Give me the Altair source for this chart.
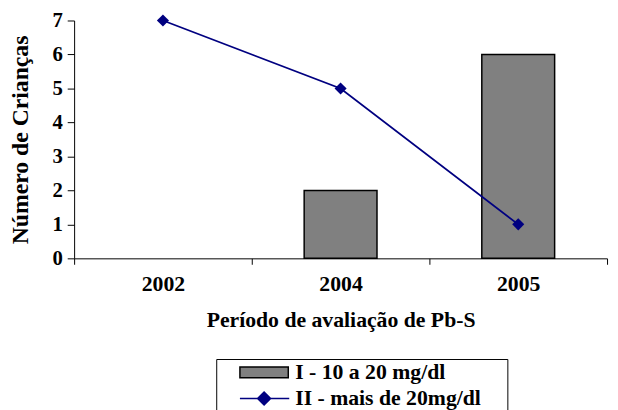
import altair as alt
import pandas as pd

anos = ["2002", "2004", "2005"]
serie_i = [None, 2, 6]
serie_ii = [7, 5, 1]
nome_i = "I - 10 a 20 mg/dl"
nome_ii = "II - mais de 20mg/dl"
y_ticks = [0, 1, 2, 3, 4, 5, 6, 7]

df_i = pd.DataFrame({"ano": anos, "valor": serie_i, "serie": nome_i})
df_ii = pd.DataFrame({"ano": anos, "valor": serie_ii, "serie": nome_ii})
df_all = pd.concat([df_i, df_ii], ignore_index=True)

FONT = "Liberation Serif"
GRAY = "#808080"
NAVY = "#000080"

PATH_RECT = "M-1,-0.224H1V0.224H-1Z"
PATH_LINE = "M-1,0H1.04M0,-0.27L0.27,0L0,0.27L-0.27,0Z"

x_enc = alt.X(
    "ano:N",
    title="Período de avaliação de Pb-S",
    scale=alt.Scale(domain=anos, paddingInner=0, paddingOuter=0),
    axis=alt.Axis(
        labelAngle=0, tickBand="extent", tickSize=6, labelPadding=10,
        titlePadding=15, labelFont=FONT, titleFont=FONT,
        labelFontWeight="bold", titleFontWeight="bold",
        labelFontSize=22, titleFontSize=22,
    ),
)
y_enc = alt.Y(
    "valor:Q",
    title="Número de Crianças",
    scale=alt.Scale(domain=[0, 7], nice=False),
    axis=alt.Axis(
        values=y_ticks, grid=False, tickSize=7, labelPadding=5,
        titlePadding=20, labelFont=FONT, titleFont=FONT,
        labelFontWeight="bold", titleFontWeight="bold",
        labelFontSize=21, titleFontSize=24, format="d",
    ),
)

bars = alt.Chart(df_i).mark_bar(
    color=GRAY, stroke="black", strokeWidth=1.5, width=alt.RelativeBandSize(0.41)
).encode(x=x_enc, y=y_enc)

line = alt.Chart(df_ii).mark_line(
    color=NAVY, strokeWidth=1.8,
    point=alt.OverlayMarkDef(shape="diamond", size=150, filled=True, color=NAVY),
).encode(x=x_enc, y=y_enc)

dom = [nome_i, nome_ii]
leg = alt.Legend(title="\u00a0", titleOrient="right", titlePadding=24, titleFontSize=8)
legend_layer = alt.Chart(df_all).mark_point(
    filled=True, opacity=1, size=2401, strokeWidth=1.5, clip=True, yOffset=2000
).encode(
    x=x_enc,
    y=y_enc,
    shape=alt.Shape("serie:N", legend=leg, scale=alt.Scale(domain=dom, range=[PATH_RECT, PATH_LINE])),
    fill=alt.Fill("serie:N", legend=leg, scale=alt.Scale(domain=dom, range=[GRAY, NAVY])),
    stroke=alt.Stroke("serie:N", legend=leg, scale=alt.Scale(domain=dom, range=["black", NAVY])),
)

chart = alt.layer(bars, line, legend_layer).properties(
    width=540,
    height=241,
    autosize=alt.AutoSizeParams(type="none"),
    padding={"left": 67, "top": 10, "right": 3, "bottom": 151},
).configure_view(
    strokeWidth=0
).configure_axis(
    labelColor="black", titleColor="black", domainColor="black", tickColor="black",
    domainWidth=1, tickWidth=1,
).configure_legend(
    orient="none", legendX=144, legendY=343,
    clipHeight=21, symbolOffset=20, labelOffset=6, rowPadding=3.5, padding=3,
    strokeColor="black", fillColor="white",
    labelFont=FONT, labelFontSize=22, labelFontWeight="bold", labelColor="black",
    labelLimit=400, symbolSize=2401, symbolStrokeWidth=1.5,
)

chart.save("out.html", embed_options={"renderer": "svg", "actions": False})
